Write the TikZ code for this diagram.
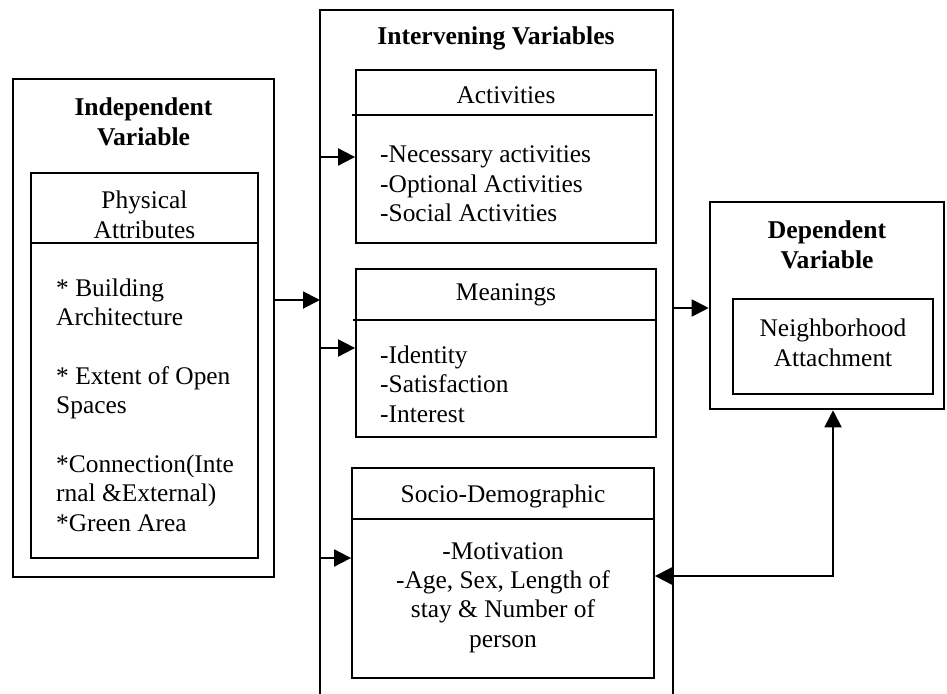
\documentclass[tikz,border=0pt]{standalone}
\usepackage{fontspec}
\setmainfont{Liberation Serif}
\usetikzlibrary{arrows.meta}
\begin{document}
\begin{tikzpicture}[x=1pt,y=-1pt,
  outerbox/.style={draw,rectangle,line width=2.6pt,inner sep=0pt},
  innerbox/.style={draw,rectangle,line width=1.8pt,inner sep=0pt},
  divline/.style={line width=1.8pt},
  txt/.style={inner sep=0pt,font=\fontsize{25.4}{29.4}\selectfont},
  head/.style={inner sep=0pt,font=\fontsize{25.6}{30}\selectfont\bfseries,align=center},
  arr/.style={line width=1.9pt,-{Triangle[length=17pt,width=17pt]}},
  darr/.style={line width=1.9pt,{Triangle[length=17pt,width=17pt]}-{Triangle[length=17pt,width=17pt]}}]
\useasboundingbox (0,0) rectangle (947,693);
\fill[white] (0,0) rectangle (947,693);

% Independent variable
\node[outerbox,minimum width=261pt,minimum height=498pt] (indep) at (143.5,328) {};
\node[head] (indepT) at (143.5,122) {Independent\\Variable};
\node[innerbox,minimum width=227pt,minimum height=385pt] (phys) at (144.5,365.5) {};
\draw[divline] (phys.west |- 0,243) -- (phys.east |- 0,243);
\node[txt,align=center] (physT) at (144.5,215) {Physical\\Attributes};
\node[txt,align=left,anchor=west] (physL) at (56,405) {* Building\\Architecture\\\mbox{}\\{}* Extent of Open\\Spaces\\\mbox{}\\{}*Connection(Inte\\rnal \&External)\\{}*Green Area};

% Intervening variables (open at bottom)
\coordinate (mTL) at (320,10);
\coordinate (mTR) at (673,10);
\draw[line width=2.6pt] (320,700) -- (mTL) -- (mTR) -- (673,700);
\node[head] (midT) at (496,38) {Intervening Variables};

\node[innerbox,minimum width=300pt,minimum height=173pt] (act) at (506,156.5) {};
\draw[divline] (352,115) -- (653,115);
\node[txt] (actT) at (506,95) {Activities};
\node[txt,align=left,anchor=west] (actL) at (380,184) {-Necessary activities\\-Optional Activities\\-Social Activities};

\node[innerbox,minimum width=300pt,minimum height=168pt] (mean) at (506,353) {};
\draw[divline] (353,320) -- (mean.east |- 0,320);
\node[txt] (meanT) at (506,295) {Meanings};
\node[txt,align=left,anchor=west] (meanL) at (380,384) {-Identity\\-Satisfaction\\-Interest};

\node[innerbox,minimum width=302pt,minimum height=210pt] (socio) at (503,573) {};
\draw[divline] (socio.west |- 0,519) -- (socio.east |- 0,519);
\node[txt] (socioT) at (503,496) {Socio-Demographic};
\node[txt,align=center] (socioL) at (503,597.5) {-Motivation\\-Age, Sex, Length of\\stay \& Number of\\person};

% Dependent variable
\node[outerbox,minimum width=234pt,minimum height=207pt] (dep) at (827,305.5) {};
\node[head] (depT) at (827,245) {Dependent\\Variable};
\node[innerbox,minimum width=200pt,minimum height=95pt] (att) at (833,346.5) {};
\node[txt,align=center] (attT) at (833,343) {Neighborhood\\Attachment};

% Connectors
\coordinate (mL) at (320,300);
\coordinate (mR) at (673,308);
\draw[arr] (indep.east |- mL) -- (mL);
\draw[arr] (mL |- 0,157) -- (act.west |- 0,157);
\draw[arr] (mL |- 0,348) -- (mean.west |- 0,348);
\draw[arr] (mL |- 0,558) -- (socio.west |- 0,558);
\draw[arr] (mR) -- (dep.west |- mR);
\coordinate (fb) at (833,576);
\draw[darr] (fb |- dep.south) -- (fb) -- (socio.east |- fb);
\end{tikzpicture}
\end{document}
